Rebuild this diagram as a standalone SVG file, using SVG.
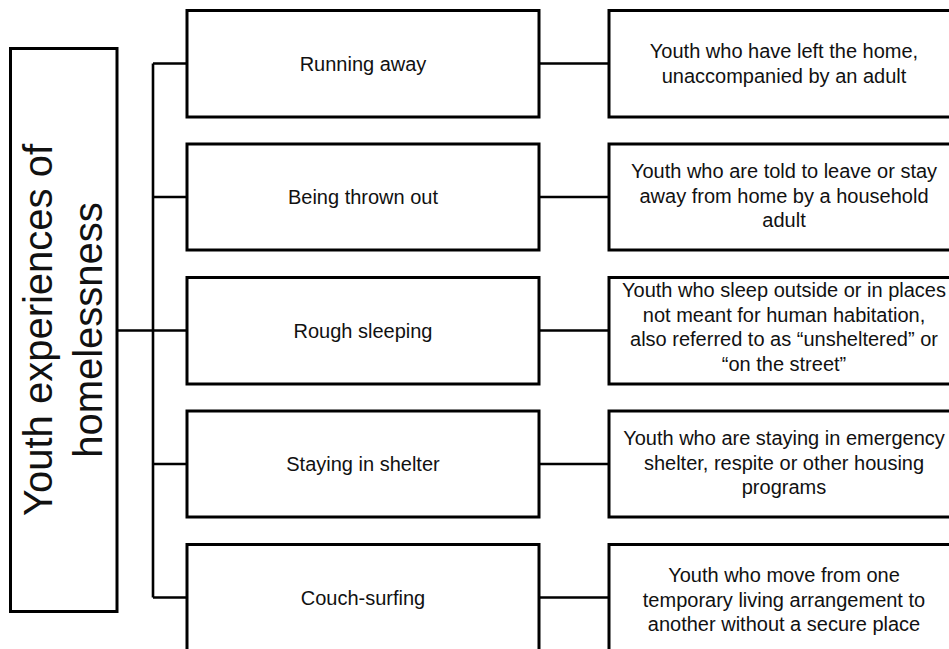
<svg xmlns="http://www.w3.org/2000/svg" width="949" height="649" viewBox="0 0 949 649">
<style>
.box{fill:#fff;stroke:#000;stroke-width:3}
.ln{fill:none;stroke:#000;stroke-width:2.6}
text{font-family:"Liberation Sans",Arial,sans-serif;fill:#111;text-anchor:middle}
.t{font-size:20px}
.big{font-size:40px}
</style>
<rect width="949" height="649" fill="#fff"/>
<g id="connectors">
<path class="ln" d="M117 330.5H153M153 63.5V597.5M153 63.5H187M153 197H187M153 330.5H187M153 464H187M153 597.5H187"/>
<path class="ln" d="M539 63.5H609M539 197H609M539 330.5H609M539 464H609M539 597.5H609"/>
</g>
<g id="root">
<rect class="box" x="10.5" y="48.5" width="106.5" height="563"/>
<text class="big" transform="translate(52,330) rotate(-90)">Youth experiences of</text>
<text class="big" transform="translate(102,330) rotate(-90)">homelessness</text>
</g>
<g id="running-away">
<rect class="box" x="187" y="10.5" width="352" height="106.5"/>
<text class="t" x="363" y="70.5">Running away</text>
</g>
<g id="being-thrown-out">
<rect class="box" x="187" y="144" width="352" height="106"/>
<text class="t" x="363" y="204">Being thrown out</text>
</g>
<g id="rough-sleeping">
<rect class="box" x="187" y="277.5" width="352" height="106.5"/>
<text class="t" x="363" y="337.5">Rough sleeping</text>
</g>
<g id="staying-in-shelter">
<rect class="box" x="187" y="411" width="352" height="106"/>
<text class="t" x="363" y="471">Staying in shelter</text>
</g>
<g id="couch-surfing">
<rect class="box" x="187" y="544.5" width="352" height="106.5"/>
<text class="t" x="363" y="604.5">Couch-surfing</text>
</g>
<g id="desc-running-away">
<rect class="box" x="609" y="10.5" width="352" height="106.5"/>
<text class="t" x="784" y="58">Youth who have left the home,</text>
<text class="t" x="784" y="82.5">unaccompanied by an adult</text>
</g>
<g id="desc-being-thrown-out">
<rect class="box" x="609" y="144" width="352" height="106"/>
<text class="t" x="784" y="178">Youth who are told to leave or stay</text>
<text class="t" x="784" y="202.5">away from home by a household</text>
<text class="t" x="784" y="227">adult</text>
</g>
<g id="desc-rough-sleeping">
<rect class="box" x="609" y="277.5" width="352" height="106.5"/>
<text class="t" x="784" y="297">Youth who sleep outside or in places</text>
<text class="t" x="784" y="321.5">not meant for human habitation,</text>
<text class="t" x="784" y="346">also referred to as “unsheltered” or</text>
<text class="t" x="784" y="370.5">“on the street”</text>
</g>
<g id="desc-staying-in-shelter">
<rect class="box" x="609" y="411" width="352" height="106"/>
<text class="t" x="784" y="445">Youth who are staying in emergency</text>
<text class="t" x="784" y="469.5">shelter, respite or other housing</text>
<text class="t" x="784" y="494">programs</text>
</g>
<g id="desc-couch-surfing">
<rect class="box" x="609" y="544.5" width="352" height="106.5"/>
<text class="t" x="784" y="582">Youth who move from one</text>
<text class="t" x="784" y="606.5">temporary living arrangement to</text>
<text class="t" x="784" y="631">another without a secure place</text>
</g>
</svg>
